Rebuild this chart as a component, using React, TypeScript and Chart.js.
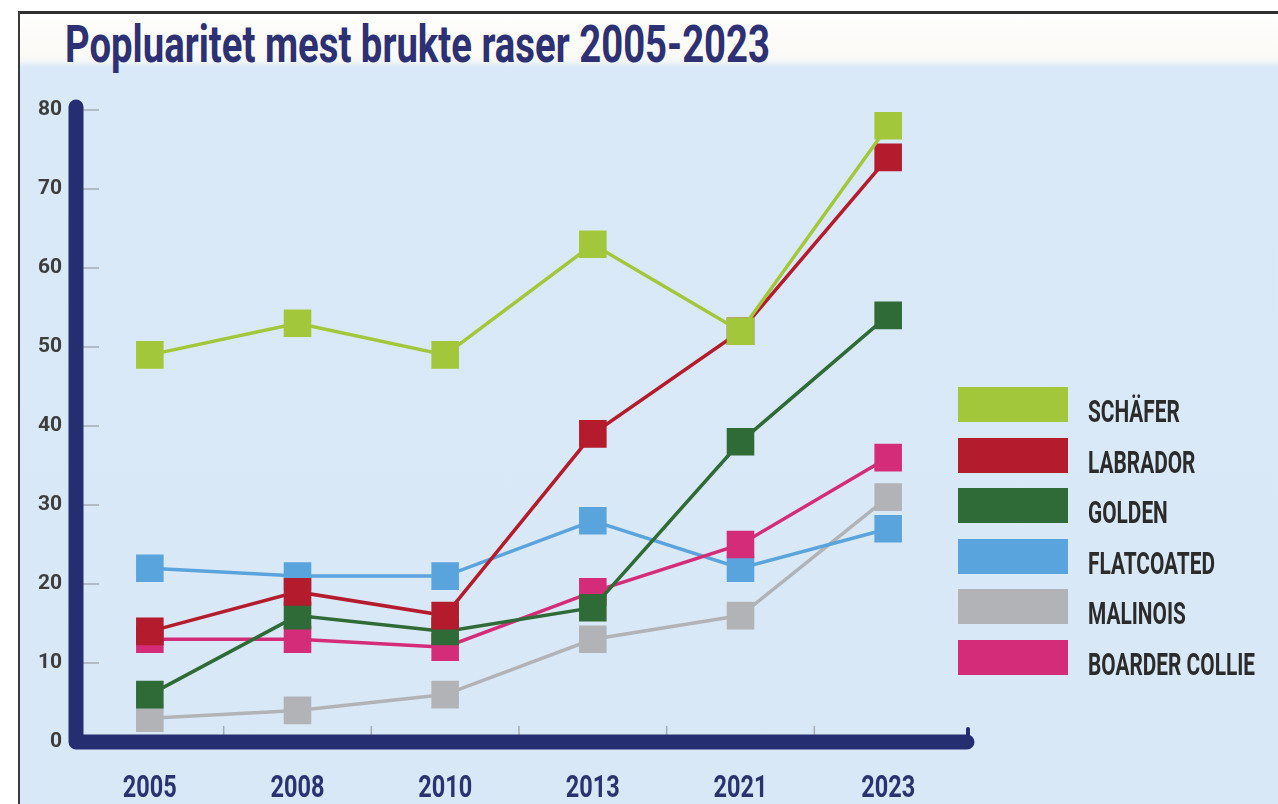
import React, { useEffect, useRef } from 'react';
import { Chart, registerables } from 'chart.js';

Chart.register(...registerables);

// ---- data ----
const years = ['2005', '2008', '2010', '2013', '2021', '2023'];
const schaefer = [49, 53, 49, 63, 52, 78];
const labrador = [14, 19, 16, 39, 52, 74];
const golden = [6, 16, 14, 17, 38, 54];
const flatcoated = [22, 21, 21, 28, 22, 27];
const malinois = [3, 4, 6, 13, 16, 31];
const boarderCollie = [13, 13, 12, 19, 25, 36];

const seriesNames = ['SCHÄFER', 'LABRADOR', 'GOLDEN', 'FLATCOATED', 'MALINOIS', 'BOARDER COLLIE'];
const seriesValues = [schaefer, labrador, golden, flatcoated, malinois, boarderCollie];
const seriesColors = ['#a2c73b', '#b41b2c', '#2f6b36', '#5aa4de', '#b2b3b6', '#d52c79'];
const drawOrder = [0, 1, 2, 4, 5, 3];

const yMin = 0;
const yMax = 80;
const yStep = 10;

const titleText = 'Popluaritet mest brukte raser 2005-2023';

const FONT = 'Roboto, "Liberation Sans", Arial, sans-serif';
const NAVY = '#262e72';

function measure(text: string, font: string): number {
  const c = document.createElement('canvas');
  const ctx = c.getContext('2d')!;
  ctx.font = font;
  return ctx.measureText(text).width;
}

const axisDecor = {
  id: 'axisDecor',
  beforeDatasetsDraw(chart: any) {
    const { ctx, chartArea, scales } = chart;
    const xs = scales.x;
    const ys = scales.y;
    const x0 = chartArea.left;
    const y0 = ys.getPixelForValue(yMin);
    const yTop = ys.getPixelForValue(yMax) - 3;
    const xEnd = xs.getPixelForValue(years.length - 0.5) + 5;
    ctx.save();
    ctx.strokeStyle = '#a3abb5';
    ctx.lineWidth = 1.5;
    ys.ticks.forEach((t: any) => {
      if (t.value === yMin) return;
      const py = ys.getPixelForValue(t.value);
      ctx.beginPath();
      ctx.moveTo(x0 + 7, py);
      ctx.lineTo(x0 + 23, py);
      ctx.stroke();
    });
    for (let i = 0; i < years.length - 1; i++) {
      const px = xs.getPixelForValue(i + 0.5);
      ctx.beginPath();
      ctx.moveTo(px, y0 - 16);
      ctx.lineTo(px, y0 - 7);
      ctx.stroke();
    }
    ctx.strokeStyle = NAVY;
    ctx.lineWidth = 15;
    ctx.lineCap = 'round';
    ctx.lineJoin = 'round';
    ctx.beginPath();
    ctx.moveTo(x0, yTop);
    ctx.lineTo(x0, y0);
    ctx.lineTo(xEnd, y0);
    ctx.stroke();
    ctx.lineWidth = 4;
    ctx.beginPath();
    ctx.moveTo(xEnd + 1, y0 - 13);
    ctx.lineTo(xEnd + 1, y0);
    ctx.stroke();
    ctx.restore();
  },
  afterDraw(chart: any) {
    const { ctx, scales } = chart;
    const xs = scales.x;
    const ys = scales.y;
    const y0 = ys.getPixelForValue(yMin);
    const font = `700 31px ${FONT}`;
    const k = 54 / measure('2005', font);
    ctx.save();
    ctx.font = font;
    ctx.fillStyle = '#2b3270';
    ctx.textAlign = 'center';
    ctx.textBaseline = 'alphabetic';
    xs.ticks.forEach((t: any, i: number) => {
      const px = xs.getPixelForTick(i);
      const label = xs.getLabelForValue(t.value);
      ctx.save();
      ctx.translate(px, y0 + 55);
      ctx.scale(k, 1);
      ctx.fillText(label, 0, 0);
      ctx.restore();
    });
    ctx.restore();
  },
};

export default function App() {
  const ref = useRef<HTMLCanvasElement>(null);

  useEffect(() => {
    document.body.style.margin = '0';
    const chart = new Chart(ref.current!, {
      type: 'line',
      data: {
        labels: years,
        datasets: seriesNames.map((name, i) => ({
          label: name,
          data: seriesValues[i],
          borderColor: seriesColors[i],
          backgroundColor: seriesColors[i],
          borderWidth: 3.5,
          pointStyle: 'rect',
          pointRadius: 19.5,
          pointHoverRadius: 19.5,
          pointBorderWidth: 0,
          pointBackgroundColor: seriesColors[i],
          fill: false,
          tension: 0,
          order: drawOrder[i],
        })),
      },
      options: {
        responsive: false,
        animation: false,
        events: [],
        layout: { padding: { left: 0, top: 110, right: 316, bottom: 0 } },
        plugins: {
          legend: { display: false },
          title: { display: false },
          tooltip: { enabled: false },
        },
        scales: {
          x: {
            type: 'category',
            offset: true,
            grid: { display: false, drawTicks: false },
            border: { display: false },
            ticks: { display: false },
            afterFit: (s: any) => {
              s.height = 62;
            },
          },
          y: {
            min: yMin,
            max: yMax,
            grid: { display: false, drawTicks: false },
            border: { display: false },
            ticks: {
              stepSize: yStep,
              padding: 14,
              color: '#3d3d3d',
              font: { family: FONT, size: 21, weight: 'bold' },
            },
            afterFit: (s: any) => {
              s.width = 76;
            },
          },
        },
      },
      plugins: [axisDecor],
    } as any);
    return () => chart.destroy();
  }, []);

  const titleFont = `700 52px ${FONT}`;
  const titleK = 705 / measure(titleText, titleFont);
  const legendFont = `700 31px ${FONT}`;
  const legendK = 167 / measure('BOARDER COLLIE', legendFont);

  return (
    <div
      style={{
        position: 'fixed',
        left: 0,
        top: 0,
        width: 1278,
        height: 804,
        background: '#ffffff',
        overflow: 'hidden',
      }}
    >
      <div
        style={{
          position: 'absolute',
          left: 20,
          top: 14,
          right: 0,
          bottom: 0,
          background:
            'linear-gradient(to bottom, #fefefe 0px, #fcfaf6 42px, #f3f7fb 47px, #dae9f7 53px, #d9e8f6 100%)',
        }}
      />
      <div style={{ position: 'absolute', left: 18, top: 11, width: 1260, height: 3, background: '#2f2f2f' }} />
      <div style={{ position: 'absolute', left: 18, top: 11, width: 2, height: 793, background: '#3a3a3a' }} />
      <div
        style={{
          position: 'absolute',
          left: 65,
          top: 19,
          fontFamily: FONT,
          fontWeight: 700,
          fontSize: 52,
          lineHeight: 1,
          color: '#2d3174',
          whiteSpace: 'nowrap',
          transform: `scaleX(${titleK})`,
          transformOrigin: 'left top',
        }}
      >
        {titleText}
      </div>
      <canvas
        ref={ref}
        width={1278}
        height={804}
        style={{ position: 'absolute', left: 0, top: 0, width: 1278, height: 804 }}
      />
      {seriesNames.map((name, i) => {
        const top = 387 + i * 50.5;
        return (
          <React.Fragment key={name}>
            <div
              style={{
                position: 'absolute',
                left: 958,
                top,
                width: 110,
                height: 35,
                background: seriesColors[i],
              }}
            />
            <div
              style={{
                position: 'absolute',
                left: 1088,
                top: top + 9,
                fontFamily: FONT,
                fontWeight: 700,
                fontSize: 31,
                lineHeight: 1,
                color: '#2b2b2b',
                whiteSpace: 'nowrap',
                transform: `scaleX(${legendK})`,
                transformOrigin: 'left top',
              }}
            >
              {name}
            </div>
          </React.Fragment>
        );
      })}
    </div>
  );
}
